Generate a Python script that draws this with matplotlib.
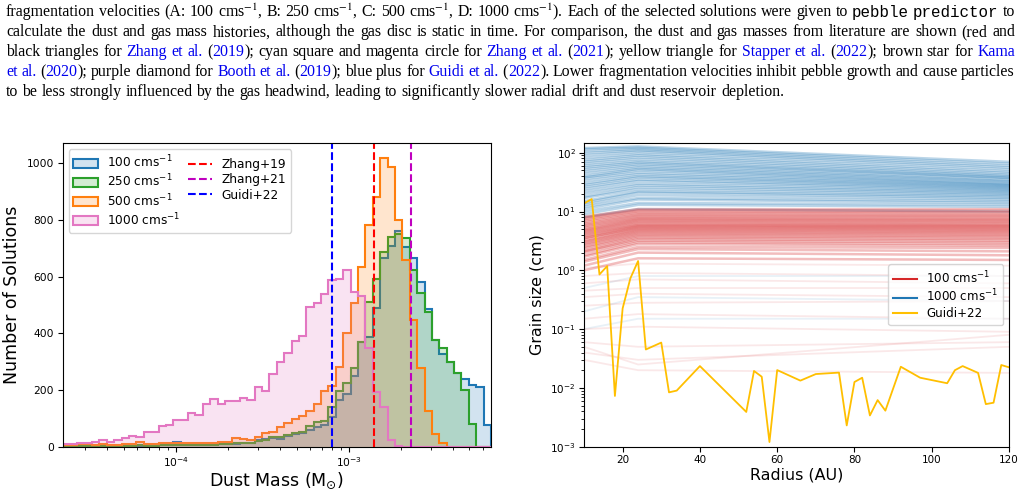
import numpy as np
import matplotlib
matplotlib.use('Agg')
import matplotlib.pyplot as plt
from matplotlib.colors import to_rgba

# caption text (<...> = link, `...` = monospace)
caption_lines = [
    "fragmentation velocities (A: 100 cms$^{-1}$, B: 250 cms$^{-1}$, C: 500 cms$^{-1}$, D: 1000 cms$^{-1}$). Each of the selected solutions were given to `pebble predictor` to",
    "calculate the dust and gas mass histories, although the gas disc is static in time. For comparison, the dust and gas masses from literature are shown (red and",
    "black triangles for <Zhang et al.> (<2019>); cyan square and magenta circle for <Zhang et al.> (<2021>); yellow triangle for <Stapper et al.> (<2022>); brown star for <Kama>",
    "<et al.> (<2020>); purple diamond for <Booth et al.> (<2019>); blue plus for <Guidi et al.> (<2022>). Lower fragmentation velocities inhibit pebble growth and cause particles",
    "to be less strongly influenced by the gas headwind, leading to significantly slower radial drift and dust reservoir depletion.",
]

# left panel: histogram of dust masses
log_mass_min = -4.6555
log_mass_max = -2.1766
n_bins = 58
labels_hist = ['100 cms$^{-1}$', '250 cms$^{-1}$', '500 cms$^{-1}$', '1000 cms$^{-1}$']
colors_hist = ['tab:blue', 'tab:green', 'tab:orange', 'tab:pink']
counts_100 = [3, 3, 3, 4, 4, 3, 4, 4, 4, 5,
              4, 5, 5, 6, 6, 16, 7, 6, 7, 7,
              8, 8, 8, 10, 12, 12, 24, 26, 30, 26,
              38, 45, 50, 59, 71, 78, 106, 165, 185, 250,
              371, 388, 490, 665, 708, 762, 703, 665, 580, 485,
              376, 326, 300, 261, 238, 218, 212, 77]
counts_250 = [3, 3, 4, 4, 3, 4, 4, 3, 4, 4,
              5, 4, 4, 6, 6, 6, 6, 6, 7, 7,
              7, 8, 8, 12, 12, 14, 21, 24, 33, 35,
              41, 47, 53, 73, 88, 92, 141, 198, 224, 279,
              371, 512, 590, 685, 741, 751, 735, 623, 541, 476,
              376, 347, 300, 261, 200, 80, 0, 0]
counts_500 = [5, 6, 8, 8, 6, 10, 6, 6, 8, 9,
              15, 10, 10, 12, 12, 12, 12, 13, 13, 14,
              14, 15, 15, 30, 26, 24, 33, 50, 53, 68,
              85, 96, 108, 127, 151, 196, 214, 282, 400, 506,
              632, 782, 879, 1019, 988, 798, 659, 447, 276, 125,
              45, 14, 0, 0, 0, 0, 0, 0]
counts_1000 = [9, 10, 13, 14, 18, 24, 18, 24, 30, 39,
               33, 53, 53, 73, 77, 94, 94, 118, 111, 149,
               167, 151, 162, 162, 170, 166, 212, 196, 256, 298,
               330, 373, 390, 494, 506, 540, 588, 592, 624, 547,
               530, 347, 194, 141, 22, 3, 0, 0, 0, 0,
               0, 0, 0, 0, 0, 0, 0, 0]
lit_names = ['Zhang+19', 'Zhang+21', 'Guidi+22']
lit_masses = [1.40e-3, 2.30e-3, 8.0e-4]
lit_colors = ['r', 'm', 'b']

# right panel: grain size profiles, values at radius knots
radius_knots = [10, 24, 120]
blue_a10 = [8, 9, 10, 11, 12, 13, 14, 15, 17, 18, 20, 22, 24, 26, 28, 30, 33, 36, 38, 40, 44, 48, 52, 56, 60, 65, 70, 75, 82, 90, 98, 106, 115, 120]
blue_a24 = [11, 13, 14, 16, 17, 19, 21, 22, 24, 26, 28, 30, 33, 35, 38, 40, 43, 46, 50, 53, 56, 60, 64, 68, 72, 78, 84, 90, 96, 104, 110, 116, 122, 128]
blue_a120 = [10, 12, 13, 14, 15, 16, 17, 18, 19, 20, 21, 22, 23, 24, 25, 26, 27, 28, 29, 30, 32, 33, 35, 37, 38, 40, 42, 45, 48, 52, 56, 60, 65, 70]
red_a10 = [1.0, 1.2, 1.4, 1.5, 1.7, 1.8, 2.0, 2.1, 2.2, 2.4, 2.5, 2.7, 2.8, 3.0, 3.1, 3.3, 3.5, 3.6, 3.8, 4.0, 4.2, 4.4, 4.6, 4.8, 5.0, 5.3, 5.6, 5.9, 6.2, 6.6, 7.0, 7.4, 7.8, 8.2]
red_a24 = [1.6, 2.0, 2.3, 2.5, 2.8, 3.0, 3.2, 3.4, 3.6, 3.8, 4.0, 4.2, 4.4, 4.6, 4.8, 5.0, 5.2, 5.4, 5.6, 5.8, 6.0, 6.3, 6.6, 6.9, 7.2, 7.5, 7.8, 8.2, 8.6, 9.0, 9.5, 10.0, 10.5, 11.0]
red_a120 = [1.5, 1.8, 2.1, 2.4, 2.6, 2.8, 3.0, 3.2, 3.4, 3.6, 3.8, 4.0, 4.2, 4.4, 4.6, 4.8, 5.0, 5.2, 5.4, 5.6, 5.8, 6.0, 6.3, 6.6, 6.9, 7.2, 7.5, 7.9, 8.3, 8.7, 9.2, 9.7, 10.3, 11.0]
faint_red_a10 = [1.1, 0.8, 0.6, 0.45, 0.35, 0.25, 0.15, 0.1, 0.06, 0.04, 0.05, 0.03]
faint_red_a24 = [1.3, 0.9, 0.7, 0.5, 0.4, 0.28, 0.18, 0.11, 0.05, 0.03, 0.025, 0.02]
faint_red_a120 = [1.2, 0.8, 0.6, 0.5, 0.35, 0.3, 0.15, 0.09, 0.06, 0.05, 0.08, 0.018]
faint_blue_a10 = [0.5, 0.2, 0.1]
faint_blue_a24 = [0.8, 0.35, 0.15]
faint_blue_a120 = [0.8, 0.3, 0.15]

guidi_r = [10, 12, 14, 16, 18, 20, 22, 24, 26, 30, 32, 34, 40, 52, 54, 56, 58, 60, 66, 70,
           76, 78, 80, 82, 84, 86, 88, 92, 97, 104, 106, 108, 112, 114, 116, 118, 120]
guidi_a = [13.7, 16.3, 0.85, 1.18, 0.0073, 0.225, 0.73, 1.44, 0.045, 0.059, 0.0084, 0.009, 0.0235,
           0.0039, 0.0194, 0.0155, 0.0012, 0.0201, 0.0133, 0.0172, 0.0182, 0.0023, 0.0126, 0.0149,
           0.0034, 0.0062, 0.0041, 0.0229, 0.0149, 0.012, 0.020, 0.0235, 0.018, 0.0053, 0.0056,
           0.0245, 0.0224]

W, H = 1025, 493
fig = plt.figure(figsize=(W / 100, H / 100), dpi=100)

# ---- caption, justified like the paper ----
cap_size = 11.4
def parse_words(line):
    words, cur, buf = [], [], ''
    kind, in_math = 'n', False
    for ch in line:
        if ch == '$':
            in_math = not in_math
            buf += ch
            continue
        if in_math:
            buf += ch
            continue
        if ch in '<>`':
            if buf:
                cur.append((buf, kind))
                buf = ''
            if ch == '<':
                kind = 'l'
            elif ch == '>':
                kind = 'n'
            else:
                kind = 'n' if kind == 'm' else 'm'
            continue
        if ch == ' ':
            if buf:
                cur.append((buf, kind))
                buf = ''
            if cur:
                words.append(cur)
                cur = []
            continue
        buf += ch
    if buf:
        cur.append((buf, kind))
    if cur:
        words.append(cur)
    return words

def text_style(kind):
    st = dict(fontsize=cap_size, family='Liberation Serif', color='black', math_fontfamily='stix', va='baseline', ha='left')
    if kind == 'l':
        st['color'] = '#0000ee'
    if kind == 'm':
        st['family'] = 'Liberation Mono'
    return st

renderer = fig.canvas.get_renderer()
x_left, x_right = 6, 1015
for i, line in enumerate(caption_lines):
    yb = 16.5 + 19.8 * i
    words = parse_words(line)
    placed = []
    for w in words:
        pieces = []
        for txt, kind in w:
            t = fig.text(0, 1 - yb / H, txt, **text_style(kind))
            pieces.append((t, t.get_window_extent(renderer).width))
        placed.append(pieces)
    wsum = [sum(p[1] for p in pieces) for pieces in placed]
    if i < len(caption_lines) - 1:
        gap = (x_right - x_left - sum(wsum)) / (len(placed) - 1)
    else:
        gap = 0.25 * cap_size * 100 / 72
    x = x_left
    for pieces, ws in zip(placed, wsum):
        xx = x
        for t, wd in pieces:
            t.set_x(xx / W)
            xx += wd
        x += ws + gap

# ---- left panel ----
ax1 = fig.add_axes([62.5 / W, (H - 446.7) / H, (491 - 62.5) / W, (446.7 - 143.3) / H])
edges = np.logspace(log_mass_min, log_mass_max, n_bins + 1)
for counts, lab, c in zip([counts_100, counts_250, counts_500, counts_1000], labels_hist, colors_hist):
    ax1.stairs(counts, edges, fill=True, facecolor=to_rgba(c, 0.2), edgecolor=c, linewidth=1.5, label=lab)
for m, name, c in zip(lit_masses, lit_names, lit_colors):
    ax1.axvline(m, color=c, linestyle='--', linewidth=1.5, label=name)
ax1.set_xscale('log')
ax1.set_xlim(edges[0], edges[-1])
ax1.set_ylim(0, 1070)
ax1.set_xlabel(r'Dust Mass (M$_{\odot}$)', fontsize=12.5, labelpad=1)
ax1.set_ylabel('Number of Solutions', fontsize=12.5)
ax1.tick_params(labelsize=7.7, pad=2.5)
ax1.legend(ncol=2, loc='upper left', fontsize=8.7, columnspacing=0.6, labelspacing=0.2)

# ---- right panel ----
ax2 = fig.add_axes([584 / W, (H - 446.7) / H, (1009 - 584) / W, (446.7 - 142.7) / H])
for a, b, c in zip(faint_blue_a10, faint_blue_a24, faint_blue_a120):
    ax2.plot(radius_knots, [a, b, c], color='tab:blue', alpha=0.1, linewidth=1.3)
for a, b, c in zip(blue_a10, blue_a24, blue_a120):
    ax2.plot(radius_knots, [a, b, c], color='tab:blue', alpha=0.3, linewidth=1.8)
for a, b, c in zip(faint_red_a10, faint_red_a24, faint_red_a120):
    ax2.plot(radius_knots, [a, b, c], color='tab:red', alpha=0.1, linewidth=1.3)
for a, b, c in zip(red_a10, red_a24, red_a120):
    ax2.plot(radius_knots, [a, b, c], color='tab:red', alpha=0.3, linewidth=1.8)
ax2.plot(guidi_r, guidi_a, color='#ffbf00', linewidth=1.3)
ax2.plot([], [], color='tab:red', label='100 cms$^{-1}$')
ax2.plot([], [], color='tab:blue', label='1000 cms$^{-1}$')
ax2.plot([], [], color='#ffbf00', label='Guidi+22')
ax2.set_yscale('log')
ax2.set_xlim(10, 120)
ax2.set_ylim(1e-3, 148)
ax2.set_xlabel('Radius (AU)', fontsize=11.4, labelpad=2)
ax2.set_ylabel('Grain size (cm)', fontsize=11.4)
ax2.tick_params(labelsize=7.5, pad=2.5)
ax2.legend(loc='center right', fontsize=8.6, labelspacing=0.2)

fig.savefig('out.png', dpi=100)
